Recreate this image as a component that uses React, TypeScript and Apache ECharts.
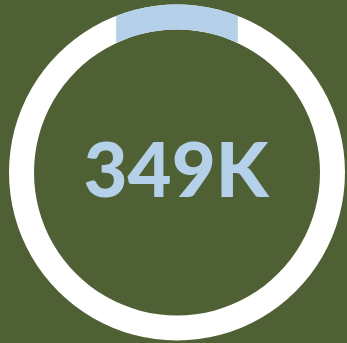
import React, { useEffect, useRef } from "react";
import * as echarts from "echarts";

// Data
const totalLabels = ["349K"];
const ringValues = [1];
const highlightShare = [0.362]; // share of ring diameter covered by the highlighted band

const BG = "#4f6134";
const RING = "#ffffff";
const ACCENT = "#b5d0e9";

export default function App() {
  const ref = useRef<HTMLDivElement>(null);
  useEffect(() => {
    document.body.style.margin = "0";
    const chart = echarts.init(ref.current!, null, { renderer: "svg" });
    const cx = 177;
    const cy = 172.5;
    const rIn = 143;
    const rOut = 168;
    chart.setOption({
      animation: false,
      backgroundColor: BG,
      series: [
        {
          type: "pie",
          center: [cx, cy],
          radius: [rIn, rOut],
          silent: true,
          label: { show: false },
          labelLine: { show: false },
          itemStyle: { color: RING, borderWidth: 0 },
          data: ringValues.map((v) => ({ value: v })),
          z: 1,
        },
        {
          type: "custom",
          coordinateSystem: "none",
          silent: true,
          z: 3,
          data: highlightShare.map((s) => [s]),
          renderItem: (params: any, api: any) => {
            const share = api.value(0);
            const half = (share * 2 * rOut) / 2;
            const ao = Math.asin(Math.min(1, half / rOut));
            const ai = Math.asin(Math.min(1, half / rIn));
            const pts: number[][] = [];
            const n = 60;
            for (let i = 0; i <= n; i++) {
              const t = -ao + (2 * ao * i) / n;
              pts.push([cx + rOut * Math.sin(t), cy - rOut * Math.cos(t)]);
            }
            for (let i = 0; i <= n; i++) {
              const t = ai - (2 * ai * i) / n;
              pts.push([cx + rIn * Math.sin(t), cy - rIn * Math.cos(t)]);
            }
            return {
              type: "polygon",
              shape: { points: pts },
              style: { fill: ACCENT },
            };
          },
        },
      ],
      graphic: [
        {
          type: "text",
          x: 176,
          y: 167,
          z: 10,
          style: {
            text: totalLabels[0],
            fill: ACCENT,
            fontFamily: "Lato",
            fontWeight: 900,
            fontSize: 76,
            textAlign: "center",
            textVerticalAlign: "middle",
          },
        },
      ],
    });
    return () => chart.dispose();
  }, []);
  return (
    <div
      ref={ref}
      style={{ position: "fixed", left: 0, top: 0, width: 347, height: 343 }}
    />
  );
}
